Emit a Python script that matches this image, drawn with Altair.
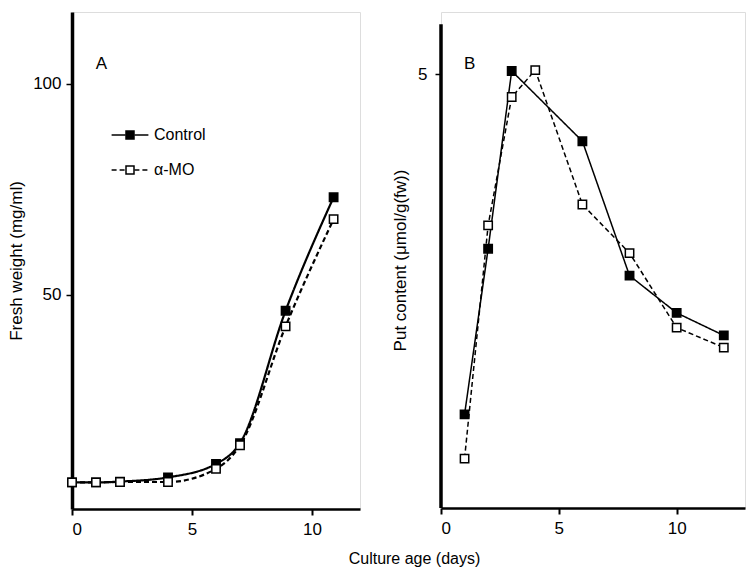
import altair as alt
import pandas as pd

FONT = "Liberation Sans"

series_names = ["Control", "α-MO"]
marker_keys = ["Control ", "α-MO "]  # keys for the marker legend (labels hidden)

# Panel A: fresh weight (mg/ml)
days_a = [0, 1, 2, 4, 6, 7, 8.9, 10.9]
control_a = [5.5, 5.5, 5.7, 6.7, 9.9, 14.8, 46.2, 73.1]
amo_a = [5.5, 5.5, 5.6, 5.6, 8.7, 14.3, 42.5, 67.9]

# Panel B: Put content (umol/g fw)
days_b_control = [1, 2, 3, 6, 8, 10, 12]
control_b = [1.08, 2.99, 5.04, 4.23, 2.68, 2.25, 1.99]
days_b_amo = [1, 2, 3, 4, 6, 8, 10, 12]
amo_b = [0.57, 3.26, 4.74, 5.05, 3.50, 2.94, 2.08, 1.85]

x_ticks_a = [0, 5, 10]
y_ticks_a = [50, 100]
x_ticks_b = [0, 5, 10]
y_ticks_b = [5]

df_a = pd.DataFrame({
    "day": days_a + days_a,
    "value": control_a + amo_a,
    "series": [series_names[0]] * len(days_a) + [series_names[1]] * len(days_a),
    "marker": [marker_keys[0]] * len(days_a) + [marker_keys[1]] * len(days_a),
})

df_b = pd.DataFrame({
    "day": days_b_control + days_b_amo,
    "value": control_b + amo_b,
    "series": [series_names[0]] * len(days_b_control) + [series_names[1]] * len(days_b_amo),
    "marker": [marker_keys[0]] * len(days_b_control) + [marker_keys[1]] * len(days_b_amo),
})

dash_scale = alt.Scale(domain=series_names, range=[[1, 0], [5, 3]])
fill_scale = alt.Scale(domain=marker_keys, range=["black", "white"])

LEG_X, LEG_Y = 50, 115
leg_common = dict(
    orient="none", legendX=LEG_X, legendY=LEG_Y, title=None,
    symbolSize=64, labelFontSize=16, labelFont=FONT, labelColor="black",
    labelOffset=16, rowPadding=19, padding=0,
)

# ---------------- Panel A ----------------
xa = alt.X("day:Q", scale=alt.Scale(domain=[0, 12], nice=False, zero=False),
           axis=alt.Axis(values=x_ticks_a, title="Culture age (days)", titleX=342, titleY=49,
                         titleBaseline="middle", titleAlign="center", titleAnchor="start",
                         titleFontSize=16, titleFontWeight="normal", titleFont=FONT,
                         labelFontSize=17, labelFont=FONT, labelPadding=6, tickSize=6,
                         tickWidth=2, domainWidth=2.5, domainColor="black", tickColor="black",
                         labelColor="black", titleColor="black", grid=False, format="d"))
ya = alt.Y("value:Q", scale=alt.Scale(domain=[-0.8, 117], nice=False, zero=False),
           axis=alt.Axis(values=y_ticks_a, title="Fresh weight (mg/ml)", titleFontSize=17,
                         titleFontWeight="normal", titleFont=FONT, titlePadding=7,
                         labelFontSize=17, labelFont=FONT, labelPadding=5, tickSize=6,
                         tickWidth=1.5, domainWidth=3.5, domainColor="black", tickColor="black",
                         labelColor="black", titleColor="black", grid=False, format="d"))

lines_a = alt.Chart(df_a).mark_line(interpolate="monotone", color="black", strokeWidth=2.2).encode(
    x=xa, y=ya,
    strokeDash=alt.StrokeDash("series:N", scale=dash_scale,
                              legend=alt.Legend(symbolType="M-4.6,0H-1.1M1.1,0H4.6",
                                                symbolStrokeColor="black", symbolStrokeWidth=1.5,
                                                symbolFillColor="transparent", **leg_common)),
)
pts_a = alt.Chart(df_a).mark_square(size=70, stroke="black", strokeWidth=1.5, opacity=1).encode(
    x=xa, y=ya,
    fill=alt.Fill("marker:N", scale=fill_scale,
                  legend=alt.Legend(symbolType="square", symbolStrokeColor="black",
                                    symbolStrokeWidth=1.5, labelOpacity=0, **leg_common)),
)
label_a = alt.Chart(pd.DataFrame({"day": [1.23], "value": [104.6], "t": ["A"]})).mark_text(
    font=FONT, fontSize=17, color="black", align="center", baseline="middle").encode(
    x=alt.X("day:Q"), y=alt.Y("value:Q"), text="t:N")

panel_a = alt.layer(lines_a, pts_a, label_a).properties(width=288, height=497)

# ---------------- Panel B ----------------
y_axis_top_b = 5.58
xb = alt.X("day:Q", scale=alt.Scale(domain=[0, 12.9], nice=False, zero=False),
           axis=alt.Axis(values=x_ticks_b, title=None, labelFontSize=17, labelFont=FONT,
                         labelPadding=6, tickSize=6, tickWidth=2, domainWidth=2.5,
                         domainColor="black", tickColor="black", labelColor="black",
                         grid=False, format="d"))
yb = alt.Y("value:Q", scale=alt.Scale(domain=[0, 5.72], nice=False, zero=False),
           axis=alt.Axis(values=y_ticks_b, title="Put content (μmol/g(fw))", titleFontSize=17,
                         titleFontWeight="normal", titleFont=FONT, titlePadding=8,
                         labelFontSize=17, labelFont=FONT, labelPadding=8, tickSize=6,
                         tickWidth=1.5, domain=False, tickColor="black",
                         labelColor="black", titleColor="black", grid=False, format="d"))

lines_b = alt.Chart(df_b).mark_line(color="black", strokeWidth=1.5).encode(
    x=xb, y=yb,
    strokeDash=alt.StrokeDash("series:N", scale=dash_scale, legend=None),
)
pts_b = alt.Chart(df_b).mark_square(size=70, stroke="black", strokeWidth=1.5, opacity=1).encode(
    x=xb, y=yb,
    fill=alt.Fill("marker:N", scale=fill_scale, legend=None),
)
axis_line_b = alt.Chart(pd.DataFrame({"x": [0], "y": [0], "y2": [y_axis_top_b]})).mark_rule(
    color="black", strokeWidth=3.5).encode(x="x:Q", y="y:Q", y2="y2:Q")
label_b = alt.Chart(pd.DataFrame({"day": [1.22], "value": [5.12], "t": ["B"]})).mark_text(
    font=FONT, fontSize=17, color="black", align="center", baseline="middle").encode(
    x=alt.X("day:Q"), y=alt.Y("value:Q"), text="t:N")

panel_b = alt.layer(axis_line_b, lines_b, pts_b, label_b).properties(width=304, height=496)

chart = alt.hconcat(panel_a, panel_b, spacing=81, bounds="flush").resolve_scale(
    strokeDash="independent", fill="independent"
).resolve_legend(strokeDash="independent", fill="independent").properties(
    padding={"left": 7, "top": 11, "right": 0, "bottom": 0}
).configure_view(stroke=None).configure(background="white")

chart.save("out.html", embed_options={"renderer": "svg", "actions": False})
